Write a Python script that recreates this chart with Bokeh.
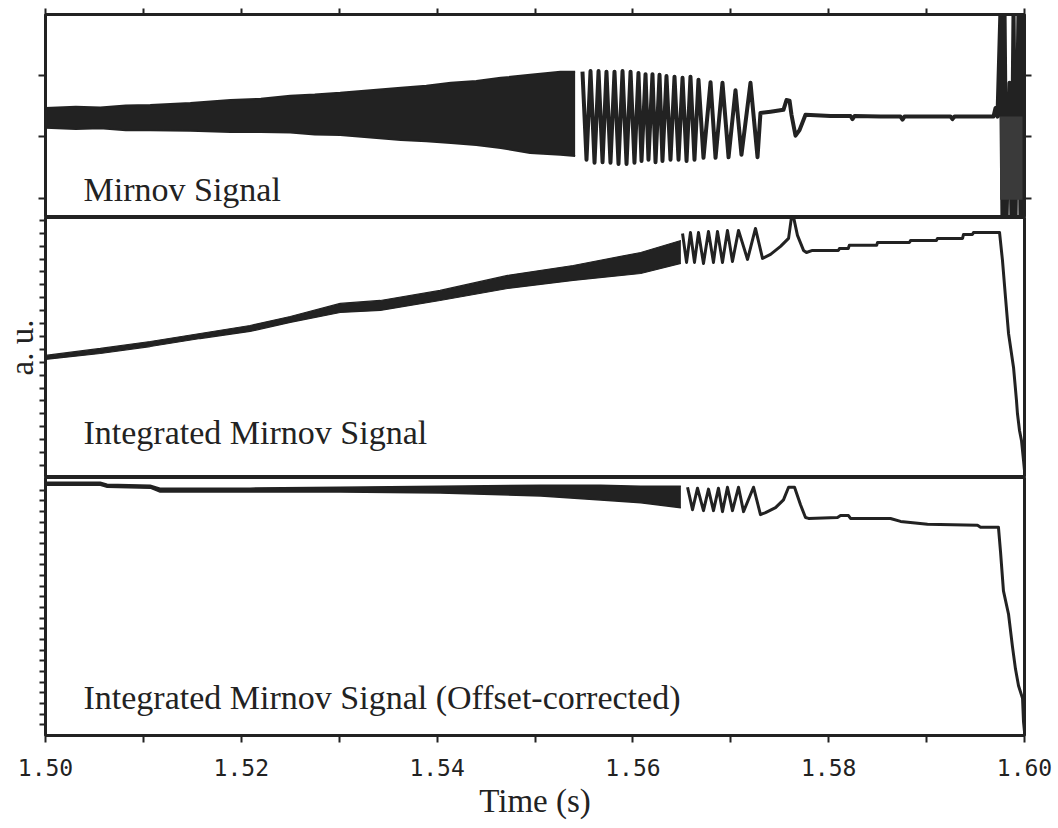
from bokeh.plotting import figure
from bokeh.models import Range1d, LinearAxis, FixedTicker, PrintfTickFormatter
from bokeh.layouts import column
from bokeh.core.properties import value
from bokeh.embed import file_html
from bokeh.resources import INLINE

INK = "#222222"
SERIF = "Liberation Serif"

# ---------------- data (time in s, amplitude in a.u.) ----------------
x_ticks_major = [1.50, 1.52, 1.54, 1.56, 1.58, 1.60]
x_ticks_minor = [1.51, 1.53, 1.55, 1.57, 1.59]
x_ticks_all = [1.50, 1.51, 1.52, 1.53, 1.54, 1.55, 1.56, 1.57, 1.58, 1.59, 1.60]

# Mirnov signal: unresolved high-frequency band (upper / lower envelope)
top_band_t = [1.5000, 1.5031, 1.5056, 1.5082, 1.5107, 1.5148, 1.5189, 1.5220,
              1.5250, 1.5275, 1.5301, 1.5332, 1.5363, 1.5389, 1.5414, 1.5440,
              1.5465, 1.5495, 1.5526, 1.5541]
top_band_hi = [0.47, 0.49, 0.48, 0.51, 0.52, 0.55, 0.60, 0.62, 0.67, 0.69, 0.72, 0.76,
               0.80, 0.83, 0.88, 0.91, 0.96, 1.01, 1.06, 1.06]
top_band_lo = [0.15, 0.13, 0.14, 0.11, 0.11, 0.10, 0.08, 0.08, 0.07, 0.04, 0.03, -0.01,
               -0.05, -0.07, -0.10, -0.13, -0.18, -0.26, -0.29, -0.31]

# Mirnov signal: resolved oscillation (turning points) and the rest of the trace
top_osc_t = [1.55485, 1.55526, 1.55567, 1.55608, 1.55649, 1.55690, 1.55730, 1.55771,
             1.55812, 1.55853, 1.55894, 1.55935, 1.55976, 1.56016, 1.56057, 1.56088,
             1.56129, 1.56159, 1.56200, 1.56231, 1.56272, 1.56302, 1.56343, 1.56384,
             1.56425, 1.56466, 1.56507, 1.56548, 1.56588, 1.56629, 1.56670, 1.56721,
             1.56793, 1.56844, 1.56915, 1.56977, 1.57048, 1.57109, 1.57201, 1.57273]
top_osc_v = [1.06, -0.37, 1.07, -0.42, 1.07, -0.41, 1.06, -0.42,
             1.06, -0.44, 1.07, -0.44, 1.06, -0.42, 1.04, -0.39,
             1.02, -0.37, 1.02, -0.41, 1.01, -0.39, 0.99, -0.37,
             0.98, -0.37, 0.96, -0.39, 0.98, -0.37, 0.93, -0.34,
             0.89, -0.34, 0.88, -0.33, 0.76, -0.29, 0.88, -0.33]
top_tail_t = [1.57303, 1.57406, 1.57538, 1.57569, 1.57600, 1.57620, 1.57661, 1.57702,
              1.57763, 1.58018, 1.58223, 1.58243, 1.58264, 1.58530, 1.58733, 1.58754,
              1.58774, 1.59040, 1.59244, 1.59264, 1.59285, 1.59500, 1.59683, 1.59704,
              1.59724, 1.59755, 1.59775, 1.59796, 1.59816, 1.59847, 1.59867, 1.59888,
              1.59908, 1.59939, 1.59959, 1.59980, 1.60000]
top_tail_v = [0.39, 0.41, 0.44, 0.60, 0.59, 0.36, 0.02, 0.11,
              0.36, 0.34, 0.34, 0.29, 0.34, 0.33, 0.33, 0.28,
              0.33, 0.33, 0.33, 0.29, 0.33, 0.33, 0.33, 0.47,
              0.33, 2.10, -1.40, 2.10, -1.40, 0.88, -1.40, 2.10,
              -1.40, 2.10, -1.40, 2.10, -1.40]
top_burst_t = [1.5975, 1.5998]
top_burst_hi = [0.33, 0.33]
top_burst_lo = [-1.02, -1.02]

# Integrated Mirnov signal
mid_band_t = [1.5000, 1.5056, 1.5107, 1.5158, 1.5209, 1.5250, 1.5301, 1.5342,
              1.5403, 1.5472, 1.5539, 1.5608, 1.5649]
mid_band_hi = [8.53, 9.07, 9.61, 10.23, 10.85, 11.55, 12.56, 12.79, 13.57, 14.73, 15.50, 16.51, 17.44]
mid_band_lo = [8.22, 8.68, 9.22, 9.84, 10.39, 11.09, 11.86, 12.02, 12.79, 13.72, 14.34, 14.88, 15.66]
mid_t = [1.56507, 1.56548, 1.56588, 1.56629, 1.56670, 1.56721, 1.56772, 1.56823,
         1.56864, 1.56915, 1.56966, 1.57017, 1.57079, 1.57171, 1.57252, 1.57324,
         1.57406, 1.57508, 1.57590, 1.57620, 1.57641, 1.57681, 1.57743, 1.57773,
         1.57834, 1.58100, 1.58110, 1.58200, 1.58210, 1.58490, 1.58499, 1.58826,
         1.58836, 1.59101, 1.59111, 1.59367, 1.59377, 1.59469, 1.59479, 1.59745,
         1.59775, 1.59806, 1.59837, 1.59888, 1.59918, 1.59928, 1.59949, 1.59969,
         1.59990, 1.60000]
mid_v = [17.98, 15.74, 18.06, 15.74, 18.06, 15.66, 18.14, 15.74,
         18.14, 15.74, 18.22, 15.81, 18.22, 15.97, 18.37, 16.05,
         16.36, 16.98, 17.60, 19.25, 19.25, 17.83, 16.67, 16.51,
         16.67, 16.67, 16.82, 16.82, 17.06, 17.06, 17.29, 17.29,
         17.44, 17.44, 17.60, 17.60, 17.91, 17.91, 18.06, 18.06,
         15.89, 13.02, 10.23, 7.60, 5.04, 4.03, 2.71, 1.94,
         0.39, -0.39]

# Integrated Mirnov signal, offset-corrected
bot_band_t = [1.5000, 1.5056, 1.5063, 1.5107, 1.5117, 1.5209, 1.5301, 1.5403,
              1.5506, 1.5567, 1.5608, 1.5649]
bot_band_hi = [22.75, 22.75, 22.57, 22.48, 22.20, 22.20, 22.29, 22.39, 22.48, 22.48, 22.39, 22.39]
bot_band_lo = [22.48, 22.48, 22.29, 22.20, 21.83, 21.83, 21.83, 21.74, 21.47, 21.10, 20.83, 20.37]
bot_t = [1.56558, 1.56609, 1.56660, 1.56721, 1.56772, 1.56823, 1.56874, 1.56915,
         1.56966, 1.57017, 1.57079, 1.57130, 1.57232, 1.57303, 1.57355, 1.57457,
         1.57538, 1.57590, 1.57651, 1.57712, 1.57763, 1.57794, 1.58090, 1.58121,
         1.58202, 1.58223, 1.58631, 1.58734, 1.59009, 1.59520, 1.59551, 1.59734,
         1.59755, 1.59785, 1.59837, 1.59877, 1.59908, 1.59939, 1.59980, 1.59990,
         1.60000]
bot_v = [22.29, 20.18, 22.20, 20.09, 22.11, 20.09, 22.20, 20.00,
         22.29, 20.09, 22.29, 20.00, 22.29, 19.72, 19.91, 20.37,
         21.10, 22.29, 22.29, 20.64, 19.45, 19.36, 19.45, 19.63,
         19.63, 19.36, 19.36, 19.08, 18.81, 18.72, 18.53, 18.53,
         16.24, 12.57, 10.37, 7.34, 5.23, 3.67, 2.48, 0.28,
         -0.64]

top_ticks = [-1, 0, 1]
mid_ticks = list(range(0, 20))
bot_ticks = list(range(0, 23))

# ---------------- figures ----------------
x_range = Range1d(1.50, 1.60)


def panel(height, y0, y1, top=0, bottom=0):
    p = figure(width=1058, height=height, x_range=x_range, y_range=Range1d(y0, y1),
               output_backend="svg", toolbar_location=None,
               x_axis_location=None, y_axis_location=None,
               min_border_left=45, min_border_right=34,
               min_border_top=top, min_border_bottom=bottom)
    p.grid.visible = False
    p.outline_line_color = INK
    p.outline_line_width = 3
    p.background_fill_color = "white"
    p.border_fill_color = "white"
    return p


def tick_axis(ticks, minor=None, out=6):
    ax = LinearAxis(ticker=FixedTicker(ticks=ticks, minor_ticks=minor or []))
    ax.axis_line_color = INK
    ax.axis_line_width = 2
    ax.major_tick_line_color = INK
    ax.major_tick_line_width = 2
    ax.major_tick_out = out
    ax.major_tick_in = 0
    ax.minor_tick_line_color = INK
    ax.minor_tick_line_width = 2
    ax.minor_tick_out = out
    ax.minor_tick_in = 0
    # tick marks only: labels take no room and are not painted
    ax.major_label_text_font_size = "1px"
    ax.major_label_text_color = None
    ax.major_label_standoff = 0
    return ax


def label(p, x, y, text):
    p.text(x=[x], y=[y], text=[text], text_font=value(SERIF), text_font_size="34px",
           text_color=INK, text_align="left", text_baseline="alphabetic")


# Mirnov signal
p1 = panel(217, -1.31, 1.99, top=14)
p1.add_layout(tick_axis(x_ticks_all, out=6), "above")
p1.add_layout(tick_axis(top_ticks, out=7), "left")
p1.add_layout(tick_axis(top_ticks, out=7), "right")
p1.varea(x=top_band_t, y1=top_band_lo, y2=top_band_hi, fill_color=INK)
p1.line(top_band_t, top_band_hi, line_color=INK, line_width=2)
p1.line(top_band_t, top_band_lo, line_color=INK, line_width=2)
p1.line(top_osc_t + top_tail_t, top_osc_v + top_tail_v, line_color=INK,
        line_width=4, line_join="round")
p1.varea(x=top_burst_t, y1=top_burst_lo, y2=top_burst_hi, fill_color="#3a3a3a")
label(p1, 1.50388, -0.862, "Mirnov Signal")

# Integrated Mirnov signal
p2 = panel(260, -0.93, 19.22)
ya = tick_axis(mid_ticks, out=6)
ya.axis_label = "a. u."
ya.axis_label_text_font = SERIF
ya.axis_label_text_font_size = "33px"
ya.axis_label_text_font_style = "normal"
ya.axis_label_text_color = INK
ya.axis_label_standoff = 0
p2.add_layout(ya, "left")
p2.varea(x=mid_band_t, y1=mid_band_lo, y2=mid_band_hi, fill_color=INK)
p2.line(mid_band_t, mid_band_hi, line_color=INK, line_width=1.2)
p2.line(mid_band_t, mid_band_lo, line_color=INK, line_width=1.2)
p2.line(mid_t, mid_v, line_color=INK, line_width=3, line_join="round")
label(p2, 1.50388, 2.56, "Integrated Mirnov Signal")

# Integrated Mirnov signal, offset-corrected, with the time axis
p3 = panel(264 + 80, -1.0, 23.2, bottom=80)
p3.add_layout(tick_axis(bot_ticks, out=6), "left")
xa = tick_axis(x_ticks_major, minor=x_ticks_minor, out=7)
xa.formatter = PrintfTickFormatter(format="%.2f")
xa.major_label_text_font = "DejaVu Sans Mono"
xa.major_label_text_font_size = "23px"
xa.major_label_text_color = INK
xa.major_label_standoff = 16
xa.axis_label = "Time (s)"
xa.axis_label_text_font = SERIF
xa.axis_label_text_font_size = "33px"
xa.axis_label_text_font_style = "normal"
xa.axis_label_text_color = INK
xa.axis_label_standoff = 4
p3.add_layout(xa, "below")
p3.varea(x=bot_band_t, y1=bot_band_lo, y2=bot_band_hi, fill_color=INK)
p3.line(bot_band_t, bot_band_hi, line_color=INK, line_width=1.5)
p3.line(bot_band_t, bot_band_lo, line_color=INK, line_width=1.5)
p3.line(bot_t, bot_v, line_color=INK, line_width=3, line_join="round")
label(p3, 1.50388, 2.57, "Integrated Mirnov Signal (Offset-corrected)")

layout = column(p1, p2, p3, spacing=0)
open("out.html", "w").write(file_html(layout, INLINE))
